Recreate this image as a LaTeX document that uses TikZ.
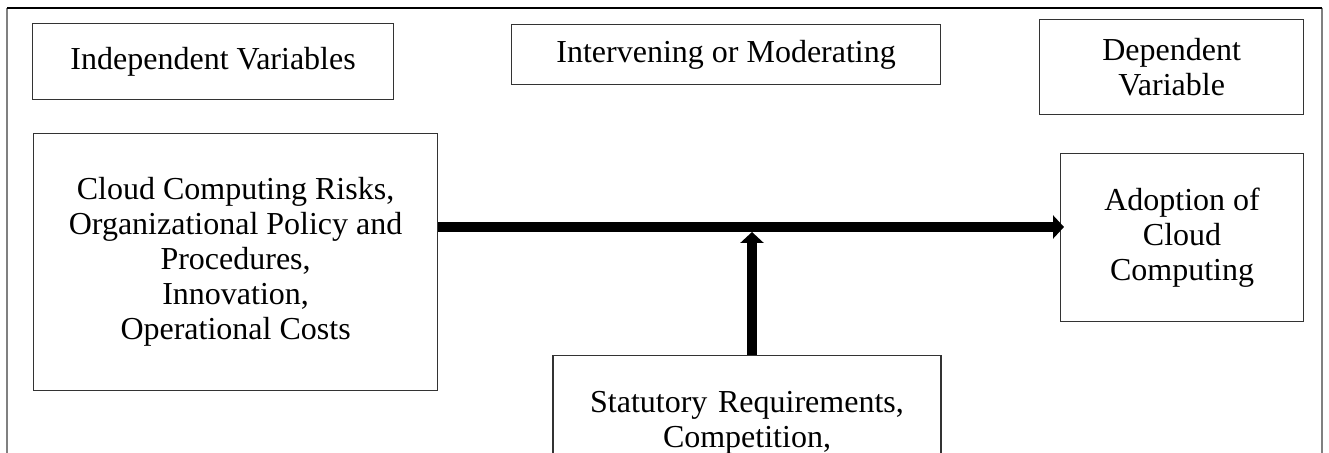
\documentclass[tikz,border=0pt]{standalone}
\usepackage{fontspec}
\setmainfont{Liberation Serif}
\usetikzlibrary{arrows.meta}
\tikzset{
    mybox/.style = {rectangle, draw=black!80, line width=0.6pt, align=center, inner sep=0pt, anchor=north west, font=\fontsize{16}{17.5}\selectfont, text=black},
    myarrow/.style = {-{Triangle[length=5.5pt,width=11.5pt]}, line width=5pt, black},
    frameside/.style = {-, line width=1pt, gray},
    frametop/.style = {-, line width=0.7pt, black},
}

\begin{document}
\begin{tikzpicture}[x=0.5pt,y=-0.5pt]
\useasboundingbox (0,0) rectangle (1329,453);
\clip (0,0) rectangle (1329,453);

% frame
\draw[frameside] (7,470) -- (7,8);
\draw[frameside] (1322,8) -- (1322,470);
\draw[frametop] (7,8) -- (1322,8);

% headings
\node[mybox, minimum width=180.5pt, minimum height=38pt] at (32,23) (indep) {Independent Variables};
\node[mybox, minimum width=214.5pt, minimum height=30pt] at (511,24) (interv) {Intervening or Moderating};
\node[mybox, minimum width=132pt, minimum height=47.5pt] at (1039,19) (dep) {Dependent\\Variable};
%
\node[mybox, minimum width=202pt, minimum height=128.5pt] at (33,133) (risks) {Cloud Computing Risks,\\Organizational Policy and\\Procedures,\\Innovation,\\Operational Costs};
\node[mybox, minimum width=121.5pt, minimum height=84pt] at (1060,153) (adopt) {Adoption of\\Cloud\\Computing};
\node[mybox, anchor=north, text width=194pt, inner ysep=18pt] at (747,355) (stat) {Statutory Requirements,\\Competition,};

\coordinate (hline) at (752,227);

%
\draw[myarrow, shorten >=-2pt] (risks.east |- hline) -- (adopt.west |- hline);
\draw[myarrow, shorten >=2.5pt] (stat.north -| hline) -- (hline);

\end{tikzpicture}
\end{document}
